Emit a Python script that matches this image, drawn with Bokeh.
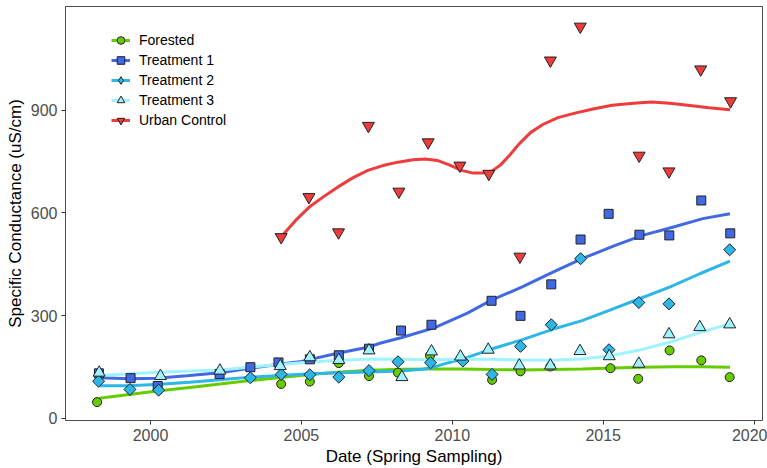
import numpy as np
from bokeh.plotting import figure
from bokeh.models import Legend, LegendItem, Range1d, FixedTicker
from bokeh.embed import file_html
from bokeh.resources import INLINE

# ---- data: sampled points (year, specific conductance) ----
forest_x = [1998.23, 2004.33, 2005.28, 2006.24, 2007.24, 2008.20, 2009.26, 2011.32, 2012.26, 2013.25, 2015.24, 2016.16, 2017.20, 2018.25, 2019.19]
forest_y = [47, 100, 107, 161, 123, 133, 183, 112, 137, 151, 146, 115, 198, 169, 120]

t1_x = [1998.29, 1999.34, 2000.24, 2002.29, 2003.31, 2004.24, 2005.28, 2006.24, 2007.24, 2008.30, 2009.31, 2011.30, 2012.26, 2013.28, 2014.25, 2015.18, 2016.20, 2017.19, 2018.25, 2019.21]
t1_y = [131, 117, 94, 129, 149, 163, 172, 184, 203, 256, 273, 343, 299, 391, 522, 597, 536, 534, 636, 540]

t2_x = [1998.28, 1999.32, 2000.27, 2003.31, 2004.33, 2005.28, 2006.24, 2007.24, 2008.20, 2009.28, 2010.35, 2011.32, 2012.26, 2013.28, 2014.25, 2015.19, 2016.18, 2017.18, 2019.19]
t2_y = [108, 84, 82, 118, 128, 127, 120, 139, 165, 162, 167, 128, 210, 273, 466, 200, 338, 334, 492]

t3_x = [1998.30, 2000.33, 2002.30, 2004.30, 2005.28, 2006.24, 2007.24, 2008.33, 2009.31, 2010.27, 2011.19, 2012.22, 2013.25, 2014.23, 2015.20, 2016.18, 2017.18, 2018.20, 2019.19]
t3_y = [133, 123, 139, 152, 178, 170, 198, 120, 195, 180, 200, 154, 154, 196, 181, 159, 245, 266, 274]

urban_x = [2004.33, 2005.25, 2006.23, 2007.22, 2008.23, 2009.20, 2010.25, 2011.21, 2012.24, 2013.25, 2014.24, 2016.19, 2017.18, 2018.23, 2019.22]
urban_y = [529, 646, 543, 854, 662, 806, 738, 714, 472, 1045, 1144, 767, 721, 1019, 926]

# ---- smoothed trend lines ----
forest_sx = [1998.3, 1999.3, 2000.3, 2001.3, 2002.3, 2003.3, 2004.3, 2005.3, 2006.3, 2007.3, 2008.3, 2009.3, 2010.3, 2011.3, 2012.3, 2013.3, 2014.3, 2015.3, 2016.3, 2017.3, 2018.3, 2019.2]
forest_sy = [58, 69, 80, 90, 100, 110, 119, 128, 135, 140, 143, 144, 144, 142, 141, 142, 144, 147, 149, 150, 150, 149]

t1_sx = [1998.3, 1999.3, 2000.2, 2001.2, 2002.3, 2003.3, 2004.2, 2005.0, 2006.2, 2007.2, 2007.6, 2008.3, 2009.4, 2010.5, 2011.3, 2012.3, 2013.3, 2014.3, 2015.4, 2016.3, 2017.3, 2018.3, 2019.2]
t1_sy = [118, 115, 117, 124, 133, 146, 157, 166, 190, 207, 219, 235, 264, 307, 345, 383, 425, 466, 505, 534, 558, 583, 597]

t2_sx = [1998.3, 1999.3, 2000.3, 2001.3, 2002.3, 2003.3, 2004.3, 2005.3, 2006.3, 2007.3, 2008.3, 2009.0, 2009.3, 2009.7, 2010.3, 2011.3, 2012.3, 2013.3, 2014.3, 2015.2, 2016.2, 2017.2, 2018.2, 2019.2]
t2_sy = [95, 95, 99, 105, 112, 120, 125, 130, 133, 135, 138, 143, 147, 158, 172, 202, 229, 259, 285, 315, 349, 383, 422, 459]

t3_sx = [1998.3, 1999.3, 2000.3, 2001.3, 2002.3, 2003.3, 2004.3, 2005.3, 2006.3, 2007.3, 2008.3, 2009.3, 2010.3, 2011.3, 2012.3, 2013.3, 2014.3, 2015.3, 2016.2, 2017.2, 2018.2, 2019.2]
t3_sy = [125, 130, 134, 138, 141, 149, 157, 164, 169, 173, 172, 171, 172, 172, 170, 169, 173, 183, 199, 222, 250, 276]

urban_sx = [2004.33, 2004.8, 2005.25, 2005.75, 2006.2, 2006.7, 2007.2, 2007.7, 2008.2, 2008.7, 2009.1, 2009.5, 2009.9, 2010.3, 2010.7, 2011.0, 2011.3, 2011.6, 2011.9, 2012.2, 2012.6, 2013.0, 2013.5, 2014.1, 2014.7, 2015.3, 2016.0, 2016.6, 2017.2, 2017.8, 2018.5, 2019.2]
urban_sy = [530, 577, 616, 648, 675, 702, 724, 738, 748, 755, 757, 753, 740, 724, 716, 716, 721, 740, 768, 800, 835, 858, 878, 892, 904, 914, 920, 924, 920, 914, 907, 901]

x_ticks = [2000, 2005, 2010, 2015, 2020]
y_ticks = [0, 300, 600, 900]

FONT = "Liberation Sans"

p = figure(width=767, height=468, output_backend="svg", toolbar_location=None,
           x_range=Range1d(1997.184, 2020.278), y_range=Range1d(-6.7, 1202.7),
           min_border_left=65, min_border_right=5, min_border_top=6, min_border_bottom=48)

p.xgrid.visible = False
p.ygrid.visible = False
p.outline_line_color = "#4d4d4d"
p.outline_line_width = 1
p.background_fill_color = "white"
p.border_fill_color = "white"

for ax in (p.xaxis[0], p.yaxis[0]):
    ax.axis_line_color = None
    ax.major_tick_line_color = "#333333"
    ax.major_tick_in = 0
    ax.major_tick_out = 4
    ax.minor_tick_line_color = None
    ax.major_label_text_font = FONT
    ax.major_label_text_font_size = "16px"
    ax.major_label_text_color = "#4d4d4d"
    ax.axis_label_text_font = FONT
    ax.axis_label_text_font_size = "17px"
    ax.axis_label_text_font_style = "normal"
    ax.axis_label_text_color = "black"

p.xaxis.major_label_standoff = 4
p.xaxis.axis_label_standoff = 3
p.yaxis.major_label_standoff = 4
p.yaxis.axis_label_standoff = 3

p.xaxis.ticker = FixedTicker(ticks=x_ticks)
p.yaxis.ticker = FixedTicker(ticks=y_ticks)
p.xaxis.axis_label = "Date (Spring Sampling)"
p.yaxis.axis_label = "Specific Conductance (uS/cm)"

series = [
    ("Forested", forest_x, forest_y, forest_sx, forest_sy, "#66CC00", "circle", 9, 0, "circle"),
    ("Treatment 1", t1_x, t1_y, t1_sx, t1_sy, "#4169E1", "square", 9, 0, "square"),
    ("Treatment 2", t2_x, t2_y, t2_sx, t2_sy, "#2DB6E8", "square", 8.5, np.pi / 4, "diamond"),
    ("Treatment 3", t3_x, t3_y, t3_sx, t3_sy, "#9FF3FF", "triangle", 12, 0, "triangle"),
    ("Urban Control", urban_x, urban_y, urban_sx, urban_sy, "#EE3B3B", "inverted_triangle", 12, 0, "inverted_triangle"),
]

lines = {}
for name, x, y, sx, sy, col, mk, sz, ang, lmk in series:
    lines[name] = p.line(sx, sy, line_color=col, line_width=3)

items = []
for name, x, y, sx, sy, col, mk, sz, ang, lmk in series:
    r = p.scatter(x, y, marker=mk, size=sz, angle=ang, fill_color=col,
                  line_color="#222222", line_width=1)
    if lmk != mk:
        # legend key glyph (legend draws its own marker size; keep this one invisible in the plot)
        rk = p.scatter(x, y, marker=lmk, size=0.01, fill_color=col,
                       line_color="#222222", line_width=1)
        items.append(LegendItem(label=name, renderers=[lines[name], rk]))
    else:
        items.append(LegendItem(label=name, renderers=[lines[name], r]))

legend = Legend(items=items, location=(46, 290))
legend.label_text_font = FONT
legend.label_text_font_size = "14px"
legend.label_text_color = "black"
legend.glyph_width = 19
legend.glyph_height = 20
legend.label_height = 20
legend.spacing = 0
legend.padding = 5
legend.margin = 0
legend.label_standoff = 9
legend.border_line_color = None
legend.background_fill_alpha = 0
p.add_layout(legend)

open("out.html", "w").write(file_html(p, INLINE))
